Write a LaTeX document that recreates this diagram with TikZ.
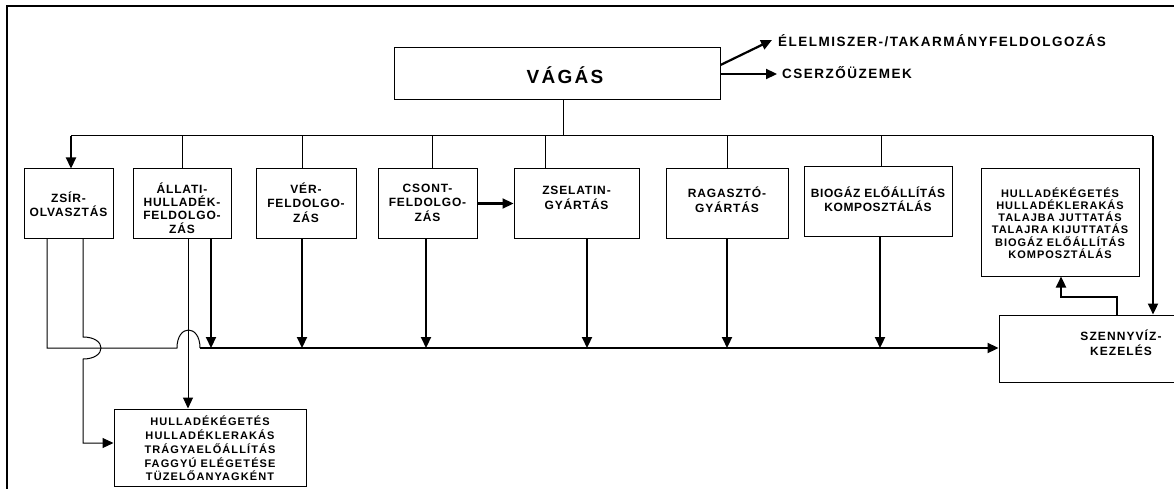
\documentclass[tikz,border=0pt]{standalone}
\usepackage{fontspec}
\setmainfont{Liberation Sans}
\usetikzlibrary{arrows.meta,calc}
\begin{document}
\begin{tikzpicture}[x=1pt,y=-1pt,
  box/.style={draw,line width=1pt,inner sep=0pt},
  tA/.style={font=\fontsize{12}{14.5}\selectfont\bfseries\addfontfeature{LetterSpace=7},align=center,inner sep=0pt},
  tB/.style={font=\fontsize{11}{12.3}\selectfont\bfseries\addfontfeature{LetterSpace=9},align=center,inner sep=0pt},
  tC/.style={font=\fontsize{13.5}{15}\selectfont\bfseries\addfontfeature{LetterSpace=11},inner sep=0pt},
  thn/.style={line width=1pt},
  thk/.style={line width=2.2pt},
  tip/.style={-{Triangle[length=11pt,width=10pt]}}
]
\useasboundingbox (0,0) rectangle (1174,489);
% frame
\draw[line width=2.2pt] (7,495) -- (7,6) -- (1180,6);

% top box
\node[box,minimum width=326pt,minimum height=52pt] (vagas) at (557,74) {};
\node[font=\fontsize{19}{20}\selectfont\bfseries\addfontfeature{LetterSpace=12},inner sep=0pt] (vagasT) at (565,75) {VÁGÁS};
\node[tC,anchor=base west] (elel) at (778,47) {ÉLELMISZER-/TAKARMÁNYFELDOLGOZÁS};
\node[tC,anchor=base west] (cser) at (782,79) {CSERZŐÜZEMEK};
\coordinate (va1) at (720,65);
\coordinate (va2) at (720,74);
\draw[thk,tip] (vagas.east |- va1) -- ($(elel.base west)+(-6,-7)$);
\draw[thk,tip] (vagas.east |- va2) -- ($(cser.base west)+(-5,-5)$);

% middle row
\node[box,minimum width=89pt,minimum height=69pt] (zsir) at (68.5,203.5) {};
\node[tA] (zsirT) at (68.5,204) {ZSÍR-\\OLVASZTÁS};
\node[box,minimum width=98pt,minimum height=69pt] (allati) at (182,203.5) {};
\node[tA,font=\fontsize{12}{13.3}\selectfont\bfseries\addfontfeature{LetterSpace=7}] (allatiT) at (182,208) {ÁLLATI-\\HULLADÉK-\\FELDOLGO-\\ZÁS};
\node[box,minimum width=100pt,minimum height=69pt] (ver) at (306,203.5) {};
\node[tA] (verT) at (306,202.5) {VÉR-\\FELDOLGO-\\ZÁS};
\node[box,minimum width=99pt,minimum height=69pt] (csont) at (427.5,203.5) {};
\node[tA] (csontT) at (427.5,202.5) {CSONT-\\FELDOLGO-\\ZÁS};
\node[box,minimum width=125pt,minimum height=69pt] (zsel) at (576.5,203.5) {};
\node[tA] (zselT) at (576.5,198) {ZSELATIN-\\GYÁRTÁS};
\node[box,minimum width=122pt,minimum height=69pt] (ragt) at (727,203.5) {};
\node[tA] (ragtT) at (727,199.5) {RAGASZTÓ-\\GYÁRTÁS};
\node[box,minimum width=148pt,minimum height=69pt] (biog) at (878,201.5) {};
\node[tA,font=\fontsize{12}{14}\selectfont\bfseries\addfontfeature{LetterSpace=5}] (biogT) at (878,199.5) {BIOGÁZ ELŐÁLLÍTÁS\\KOMPOSZTÁLÁS};
\node[box,minimum width=158pt,minimum height=107pt] (rh) at (1060,222.5) {};
\node[tB] (rhT) at (1060,223) {HULLADÉKÉGETÉS\\HULLADÉKLERAKÁS\\TALAJBA JUTTATÁS\\TALAJRA KIJUTTATÁS\\BIOGÁZ ELŐÁLLÍTÁS\\KOMPOSZTÁLÁS};
\node[box,minimum width=246pt,minimum height=67pt] (szenny) at (1122,348.5) {};
\node[tA,font=\fontsize{12}{15}\selectfont\bfseries\addfontfeature{LetterSpace=9}] (szennyT) at (1121,342.5) {SZENNYVÍZ-\\KEZELÉS};
\node[box,minimum width=192pt,minimum height=77pt] (bot) at (210,447.5) {};
\node[tB,font=\fontsize{11}{13.7}\selectfont\bfseries\addfontfeature{LetterSpace=10}] (botT) at (210,448.5) {HULLADÉKÉGETÉS\\HULLADÉKLERAKÁS\\TRÁGYAELŐÁLLÍTÁS\\FAGGYÚ ELÉGETÉSE\\TÜZELŐANYAGKÉNT};

% top distribution bus
\coordinate (bv) at (563,136);
\coordinate (bL) at (71,136);
\coordinate (bR) at (1153,136);
\coordinate (t2) at (182,136);
\coordinate (t3) at (302,136);
\coordinate (t4) at (432,136);
\coordinate (t5) at (545,136);
\coordinate (t6) at (727,136);
\coordinate (t7) at (881,136);
\draw[thn] (vagas.south -| bv) -- (bv);
\draw[thn] (bL) -- (bR);
\draw[thk,tip] (bL) -- (zsir.north -| bL);
\draw[thn] (t2) -- (allati.north -| t2);
\draw[thn] (t3) -- (ver.north -| t3);
\draw[thn] (t4) -- (csont.north -| t4);
\draw[thn] (t5) -- (zsel.north -| t5);
\draw[thn] (t6) -- (ragt.north -| t6);
\draw[thn] (t7) -- (biog.north -| t7);
\draw[thk,tip] (bR) -- (szenny.north -| bR);

% csont -> zselatin
\draw[thk,tip] (csont.east) -- (zsel.west);

% lower bus
\coordinate (d1) at (211,348);
\coordinate (d2) at (302,348);
\coordinate (d3) at (426,348);
\coordinate (d4) at (587,348);
\coordinate (d5) at (727,348);
\coordinate (d6) at (880,348);
\coordinate (h1) at (177,348);
\coordinate (h2) at (200,348);
\draw[thk,tip] (h2) -- (szenny.west |- h2);
\foreach \n/\d in {allati/d1,ver/d2,csont/d3,zsel/d4,ragt/d5,biog/d6}
  \draw[thk,tip] (\n.south -| \d) -- (\d);

% zsir left line joins the bus, hopping over the thin line
\coordinate (zl) at (47,348);
\draw[thn] (zsir.south -| zl) -- (zl) -- (h1) .. controls (177,324) and (200,324) .. (h2);

% zsir right line hops over and goes to bottom box
\coordinate (zr1) at (83,337);
\coordinate (zr2) at (83,359);
\coordinate (zr3) at (83,443);
\draw[thn,tip] (zsir.south -| zr1) -- (zr1) .. controls (107,337) and (107,359) .. (zr2) -- (zr3) -- (bot.west |- zr3);

% allati thin line down to bottom box
\coordinate (al) at (188,300);
\draw[thn,tip] (allati.south -| al) -- (bot.north -| al);

% szennyviz -> right box
\coordinate (s1) at (1117,297);
\coordinate (s2) at (1061,297);
\draw[thk,tip] (szenny.north -| s1) -- (s1) -- (s2) -- (rh.south -| s2);
\end{tikzpicture}
\end{document}
